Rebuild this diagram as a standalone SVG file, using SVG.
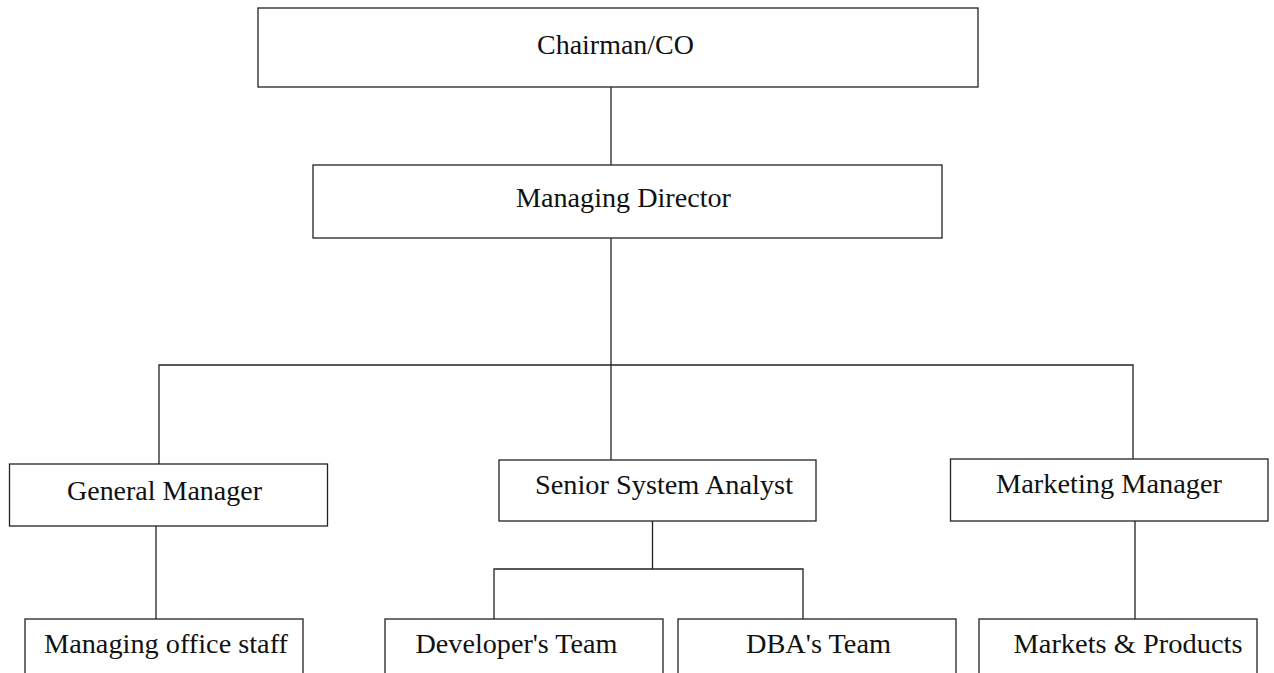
<svg xmlns="http://www.w3.org/2000/svg" width="1274" height="673" viewBox="0 0 1274 673">
<style>
.box{fill:#fff;stroke:#222;stroke-width:1.3}
.lbl{font-family:"Liberation Serif","Times New Roman",serif;font-size:28px;fill:#111}
.con{fill:none;stroke:#222;stroke-width:1.3}
</style>
<rect width="1274" height="673" fill="#fff"/>
<g id="connectors">
<line class="con" x1="611" y1="87" x2="611" y2="165"/>
<line class="con" x1="611" y1="238" x2="611" y2="460"/>
<polyline class="con" points="159,464 159,365 1133,365 1133,459"/>
<line class="con" x1="156" y1="526" x2="156" y2="619"/>
<line class="con" x1="652.5" y1="521" x2="652.5" y2="569"/>
<polyline class="con" points="494,619 494,569 803,569 803,619"/>
<line class="con" x1="1135" y1="521" x2="1135" y2="619"/>
</g>
<g id="chairman">
<rect class="box" x="258" y="8" width="720" height="79"/>
<text class="lbl" x="537" y="54" textLength="157" lengthAdjust="spacingAndGlyphs">Chairman/CO</text>
</g>
<g id="managing-director">
<rect class="box" x="313" y="165" width="629" height="73"/>
<text class="lbl" x="516" y="206.5" textLength="215" lengthAdjust="spacingAndGlyphs">Managing Director</text>
</g>
<g id="general-manager">
<rect class="box" x="9.5" y="464" width="318" height="62"/>
<text class="lbl" x="67" y="500" textLength="195" lengthAdjust="spacingAndGlyphs">General Manager</text>
</g>
<g id="senior-system-analyst">
<rect class="box" x="499" y="460" width="317" height="61"/>
<text class="lbl" x="535" y="494" textLength="258" lengthAdjust="spacingAndGlyphs">Senior System Analyst</text>
</g>
<g id="marketing-manager">
<rect class="box" x="950.5" y="459" width="317.5" height="62"/>
<text class="lbl" x="996" y="493" textLength="226" lengthAdjust="spacingAndGlyphs">Marketing Manager</text>
</g>
<g id="managing-office-staff">
<rect class="box" x="25" y="619" width="278" height="70"/>
<text class="lbl" x="44" y="653" textLength="244" lengthAdjust="spacingAndGlyphs">Managing office staff</text>
</g>
<g id="developers-team">
<rect class="box" x="385" y="619" width="278" height="70"/>
<text class="lbl" x="415.5" y="653" textLength="202" lengthAdjust="spacingAndGlyphs">Developer's Team</text>
</g>
<g id="dbas-team">
<rect class="box" x="678" y="619" width="278" height="70"/>
<text class="lbl" x="746" y="653" textLength="145" lengthAdjust="spacingAndGlyphs">DBA's Team</text>
</g>
<g id="markets-products">
<rect class="box" x="979" y="619" width="278" height="70"/>
<text class="lbl" x="1013.5" y="653" textLength="229" lengthAdjust="spacingAndGlyphs">Markets &amp; Products</text>
</g>
</svg>
